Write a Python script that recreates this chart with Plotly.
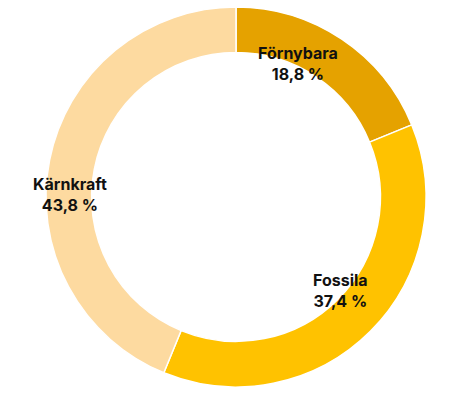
import math
import plotly.graph_objects as go

categories = ["Förnybara", "Fossila", "Kärnkraft"]
values = [18.8, 37.4, 43.8]
value_labels = ["18,8 %", "37,4 %", "43,8 %"]
colors = ["#E5A200", "#FFC200", "#FDDAA0"]

W, H = 450, 398
cx, cy, R = 236, 197, 190  # pixel center / radius
dom_x = [(cx - R) / W, (cx + R) / W]
dom_y = [(H - cy - R) / H, (H - cy + R) / H]

fig = go.Figure(go.Pie(
    labels=categories,
    values=values,
    hole=0.76,
    sort=False,
    direction="clockwise",
    rotation=0,
    marker=dict(colors=colors, line=dict(color="white", width=1.5)),
    textinfo="none",
    hoverinfo="label+percent",
    domain=dict(x=dom_x, y=dom_y),
    showlegend=False,
))

# label placement (polar, degrees clockwise from top, radius in px)
label_angle = [25, 132, 271]
label_r = [147, 140, 166]
for cat, vl, a, r in zip(categories, value_labels, label_angle, label_r):
    t = math.radians(a)
    px = cx + r * math.sin(t)
    py = cy - r * math.cos(t)
    fig.add_annotation(
        x=px / W, y=1 - py / H, xref="paper", yref="paper",
        text=f"<b>{cat}<br>{vl}</b>", showarrow=False,
        font=dict(family="Inter, Lato, sans-serif", size=16, color="#111111"),
        align="center", xanchor="center", yanchor="middle",
    )

fig.update_layout(
    width=W, height=H,
    margin=dict(l=0, r=0, t=0, b=0),
    paper_bgcolor="white", plot_bgcolor="white",
)
fig.write_html("out.html", config={"displayModeBar": False},
               post_script="document.body.style.margin='0';")
